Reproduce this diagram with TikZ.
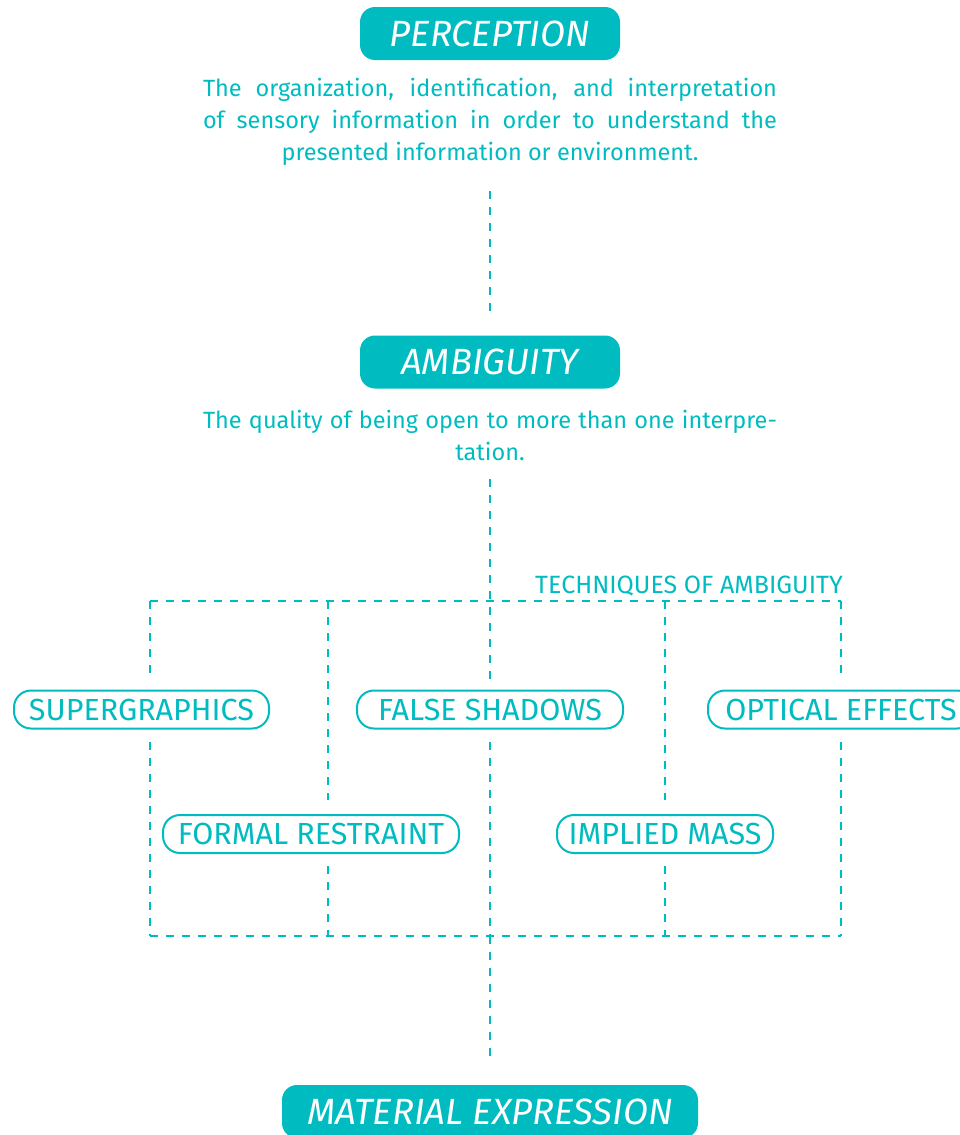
\documentclass[tikz,border=0pt]{standalone}
\usepackage{fontspec}
\setmainfont{Fira Sans}
\definecolor{teal}{HTML}{00BCC1}
\tikzset{
  titlebox/.style={fill=teal,text=white,rounded corners=15pt,inner sep=0pt,
    minimum width=#1,minimum height=53pt,font=\fontsize{36.5}{40}\selectfont\itshape},
  techbox/.style={draw=teal,line width=2pt,fill=white,text=teal,rounded corners=17pt,
    inner sep=0pt,minimum width=#1,minimum height=38pt,font=\fontsize{30.5}{34}\selectfont},
  desc/.style={text=teal,inner sep=0pt,align=center,font=\fontsize{23.5}{32}\selectfont},
  link/.style={draw=teal,line width=2pt,dash pattern=on 8pt off 8pt},
}
\begin{document}
\begin{tikzpicture}[x=1pt,y=-1pt]
  \useasboundingbox (0,0) rectangle (960,1135);
  % main chain
  \node[titlebox=260pt] (perc) at (490,33.5) {PERCEPTION};
  \node[desc] (percdesc) at (490,122)
    {\hbox to 574pt{The organization, identification, and interpretation}\\
     \hbox to 574pt{of sensory information in order to understand the}\\
     presented information or environment.};
  \node[titlebox=260pt] (amb) at (490,362) {AMBIGUITY};
  \node[desc] (ambdesc) at (490,435)
    {\hbox to 574pt{The quality of being open to more than one interpre-}\\
     tation.};
  \node[titlebox=416pt] (mat) at (490,1111.5) {MATERIAL EXPRESSION};
  % frame of the techniques
  \coordinate (t1) at (150,601);
  \coordinate (t2) at (328,601);
  \coordinate (t3) at (490,601);
  \coordinate (t4) at (665,601);
  \coordinate (t5) at (841,601);
  \coordinate (b1) at (150,936);
  \coordinate (b2) at (328,936);
  \coordinate (b3) at (490,936);
  \coordinate (b4) at (665,936);
  \coordinate (b5) at (841,936);
  \node[text=teal,anchor=base east,inner sep=0pt,font=\fontsize{25}{28}\selectfont]
    (techlabel) at (843,593) {TECHNIQUES OF AMBIGUITY};
  \node[techbox=255pt] (super) at (141.5,709.5) {SUPERGRAPHICS};
  \node[techbox=266pt] (shadow) at (490,709.5) {FALSE SHADOWS};
  \node[techbox=266pt] (optic) at (841,709.5) {OPTICAL EFFECTS};
  \node[techbox=296pt] (formal) at (311,834) {FORMAL RESTRAINT};
  \node[techbox=216pt] (mass) at (665,834) {IMPLIED MASS};
  % connectors
  \draw[link] ([yshift=-25pt]percdesc.south) -- ([yshift=24pt]amb.north);
  \draw[link] (t1) -- (t5);
  \draw[link] (b1) -- (b5);
  \draw[link,shorten <=18pt,shorten >=10pt] (ambdesc.south) -- (shadow.north);
  \draw[link,shorten >=10pt] (t1) -- (t1 |- super.north);
  \draw[link,shorten <=12pt] (t1 |- super.south) -- (b1);
  \draw[link,shorten >=14pt] (t2) -- (t2 |- formal.north);
  \draw[link,shorten <=12pt] (t2 |- formal.south) -- (b2);
  \draw[link,shorten <=12pt] (shadow.south) -- (b3);
  \draw[link,shorten >=14pt] (t4) -- (mass.north);
  \draw[link,shorten <=12pt] (mass.south) -- (b4);
  \draw[link,shorten >=10pt] (t5) -- (optic.north);
  \draw[link,shorten <=12pt] (optic.south) -- (b5);
  \draw[link,shorten >=28pt] (b3) -- (mat.north);
\end{tikzpicture}
\end{document}
